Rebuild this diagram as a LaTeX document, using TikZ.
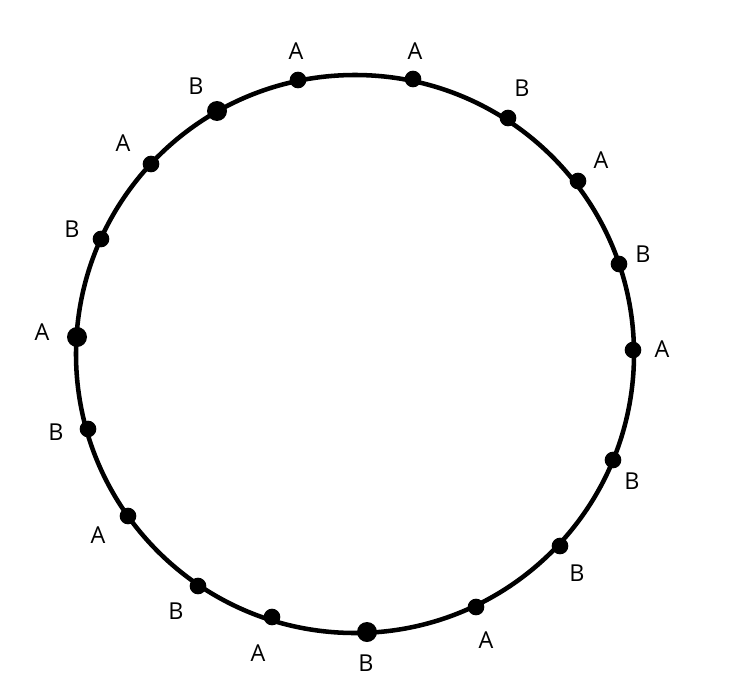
\documentclass[tikz,border=0pt]{standalone}
\usepackage{fontspec}
\setmainfont{Open Sans}
\usepackage{tikz}
\usetikzlibrary{positioning}

\begin{document}
\begin{tikzpicture}[
  x=0.75pt, y=-0.75pt,
  ring/.style={line width=3.4pt},
  dot/.style={circle, fill, inner sep=0pt, minimum size=12.5pt},
  bigdot/.style={dot, minimum size=15pt},
  lab/.style={font=\fontsize{17.5}{20}\selectfont, inner sep=0pt}
]
\useasboundingbox (0,0) rectangle (738,699);

% Ring
\draw[ring] (355,354) circle [radius=279];

% Dots
\node[dot] (d1) at (298,80) {};
\node[dot] (d2) at (413,79) {};
\node[dot] (d3) at (508,118) {};
\node[dot] (d4) at (578,181) {};
\node[dot] (d5) at (619,264) {};
\node[dot] (d6) at (633,350) {};
\node[dot] (d7) at (613,460) {};
\node[dot] (d8) at (560,546) {};
\node[dot] (d9) at (476,607) {};
\node[bigdot] (d10) at (367,632) {};
\node[dot] (d11) at (272,617) {};
\node[dot] (d12) at (198,586) {};
\node[dot] (d13) at (128,516) {};
\node[dot] (d14) at (88,429) {};
\node[bigdot] (d15) at (77,337) {};
\node[dot] (d16) at (101,239) {};
\node[dot] (d17) at (151,164) {};
\node[bigdot] (d18) at (217,111) {};

% Labels
\node[lab] (l1) at (296,51) {A};
\node[lab] (l2) at (415,51) {A};
\node[lab] (l3) at (522,88) {B};
\node[lab] (l4) at (601,160) {A};
\node[lab] (l5) at (643,254) {B};
\node[lab] (l6) at (662,349) {A};
\node[lab] (l7) at (632,481) {B};
\node[lab] (l8) at (577,573) {B};
\node[lab] (l9) at (486,640) {A};
\node[lab] (l10) at (366,663) {B};
\node[lab] (l11) at (258,653) {A};
\node[lab] (l12) at (176,611) {B};
\node[lab] (l13) at (98,535) {A};
\node[lab] (l14) at (56,432) {B};
\node[lab] (l15) at (42,332) {A};
\node[lab] (l16) at (72,229) {B};
\node[lab] (l17) at (123,143) {A};
\node[lab] (l18) at (196,86) {B};
\end{tikzpicture}
\end{document}
